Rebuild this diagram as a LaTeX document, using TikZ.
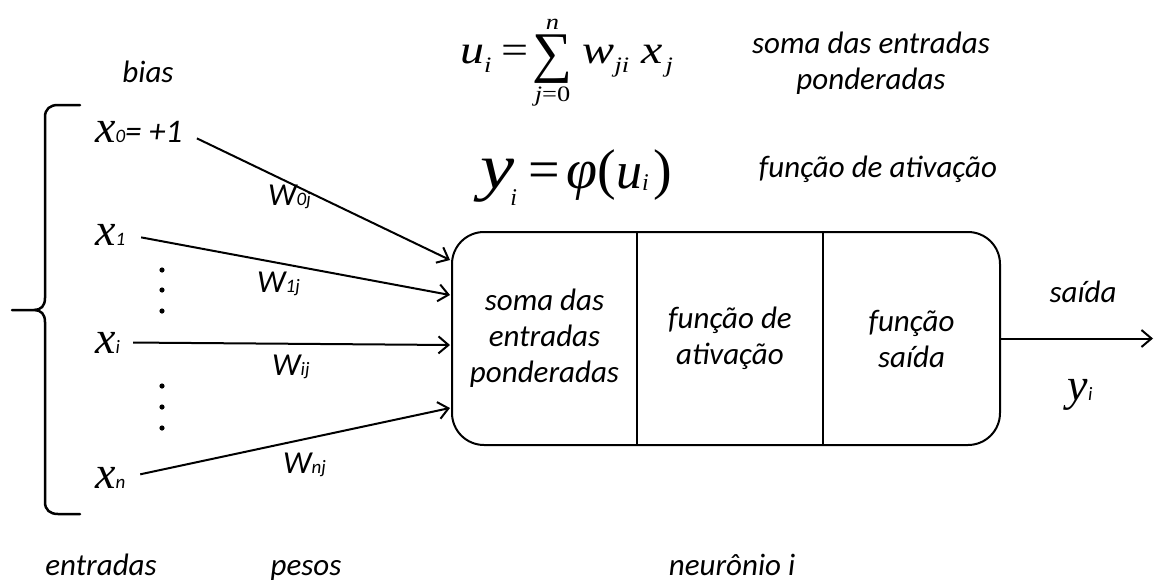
\documentclass[tikz,border=0pt]{standalone}
\usepackage{amsmath}
\usepackage{fontspec}
\setmainfont{Carlito}
\newfontfamily\tnr{Liberation Serif}
\newfontfamily\tnrw{Liberation Serif}[FakeStretch=1.2]
\usetikzlibrary{arrows.meta,positioning}

\newcommand{\vsub}[2]{{\tnr\itshape\fontsize{46}{46}\selectfont #1}{\fontsize{19}{19}\selectfont\itshape #2}}
\newcommand{\wsub}[1]{W{\fontsize{19}{19}\selectfont #1}}
\newcommand{\isub}[2]{\raisebox{#1}{\fontsize{22}{22}\selectfont\tnrw\itshape #2}}
\newcommand{\somat}{\ensuremath{\mathop{\raisebox{-8pt}{\fontsize{56}{56}\selectfont\tnr ∑}}\limits^{\hbox{\isub{0pt}{n}}}_{\hbox{\isub{0pt}{j\upshape =0}}}}}

\begin{document}
\begin{tikzpicture}[
    x=1pt, y=-1pt,
    lbl/.style={font=\fontsize{31}{36}\selectfont\itshape, align=center, inner sep=0pt},
    inp/.style={anchor=base west, inner sep=0pt},
    wlbl/.style={anchor=base west, inner sep=0pt, font=\fontsize{32}{32}\selectfont\itshape},
    cell/.style={lbl, minimum height=213pt, outer sep=0pt},
    seta/.style={line width=2pt, -{Straight Barb[length=10pt,width=17pt]}},
    linha/.style={line width=2pt}
]
\useasboundingbox (0,0) rectangle (1157,581);

\node[cell, minimum width=185pt] (soma) at (544.5,338.5) {soma das\\entradas\\ponderadas};
\node[cell, minimum width=186pt, right=0pt of soma] (ativ) {função de\\ativação};
\node[cell, minimum width=177pt, right=0pt of ativ] (fsai) {função\\saída};
\draw[linha, rounded corners=32pt] (soma.north west) rectangle (fsai.south east);
\draw[linha] (soma.north east) -- (soma.south east);
\draw[linha] (ativ.north east) -- (ativ.south east);

\node[inp] (x0) at (95,142) {\vsub{x}{0}{\fontsize{33}{33}\selectfont\itshape= +1}};
\node[inp] (x1) at (95,245) {\vsub{x}{1}};
\node[inp] (xi) at (95,353) {\vsub{x}{i}};
\node[inp] (xn) at (95,488) {\vsub{x}{n}};

\foreach \y in {270,290,311,386,407,428}
    \fill (162,\y) circle (2.6);

\coordinate (e0) at (450,260);
\coordinate (e1) at (450,295);
\coordinate (ei) at (450,345);
\coordinate (en) at (450,408);
\draw[seta, shorten <=16pt] (x0.east) -- (e0);
\draw[seta, shorten <=16pt] (x1.east) -- (e1);
\draw[seta, shorten <=13pt] (xi.east) -- (ei);
\draw[seta, shorten <=15pt] (xn.east) -- (en);

\node[wlbl] (w0) at (268,205) {\wsub{0j}};
\node[wlbl] (w1) at (257,292) {\wsub{1j}};
\node[wlbl] (wi) at (272,375) {\wsub{ij}};
\node[wlbl] (wn) at (283,473) {\wsub{nj}};

\draw[line width=2.5pt, line cap=round] (80,105) -- (58,105) .. controls (50,105) and (45,109) .. (45,117)
    -- (45,298) .. controls (45,306) and (41,310) .. (34,310) -- (12,310)
    (34,310) .. controls (41,310) and (45,314) .. (45,322)
    -- (45,502) .. controls (45,510) and (50,514) .. (58,514) -- (80,514);

\coordinate (out) at (1153,338.5);
\draw[seta] (fsai.east) -- (out);
\node[lbl, anchor=base] (said) at (1083,302) {saída};
\node[inp, anchor=base] (yi) at (1080,400) {\vsub{y}{i}};

\node[anchor=base west, inner sep=0pt] (fsoma) at (460,63)
    {\tnrw\itshape\fontsize{40}{40}\selectfont u\isub{-9pt}{i}\hspace{10pt}{\upshape =}\hspace{4pt}\somat\hspace{10pt}w\isub{-9pt}{ji}\hspace{12pt}x\isub{-9pt}{\hspace{3pt}j}};
\node[anchor=base west, inner sep=0pt] (fativ) at (480,188)
    {\tnr\itshape{\tnrw\fontsize{64}{64}\selectfont y}\hspace{-4pt}\raisebox{-17pt}{\fontsize{24}{24}\selectfont i}\hspace{12pt}\fontsize{56}{56}\selectfont{\upshape =}\hspace{6pt}φ{\upshape (}{\fontsize{52}{52}\selectfont u}\raisebox{-2pt}{\fontsize{24}{24}\selectfont i}\hspace{5pt}{\upshape )}};
\node[lbl] (tsoma) at (871,63) {soma das entradas\\ponderadas};
\node[lbl, anchor=base] (tativ) at (878,177) {função de ativação};

\node[lbl, anchor=base] (bias) at (148,82) {bias};
\node[lbl, anchor=base] (entr) at (101,575) {entradas};
\node[lbl, anchor=base] (pesos) at (306,575) {pesos};
\node[lbl, anchor=base] (neur) at (732,575) {neurônio i};
\end{tikzpicture}
\end{document}
